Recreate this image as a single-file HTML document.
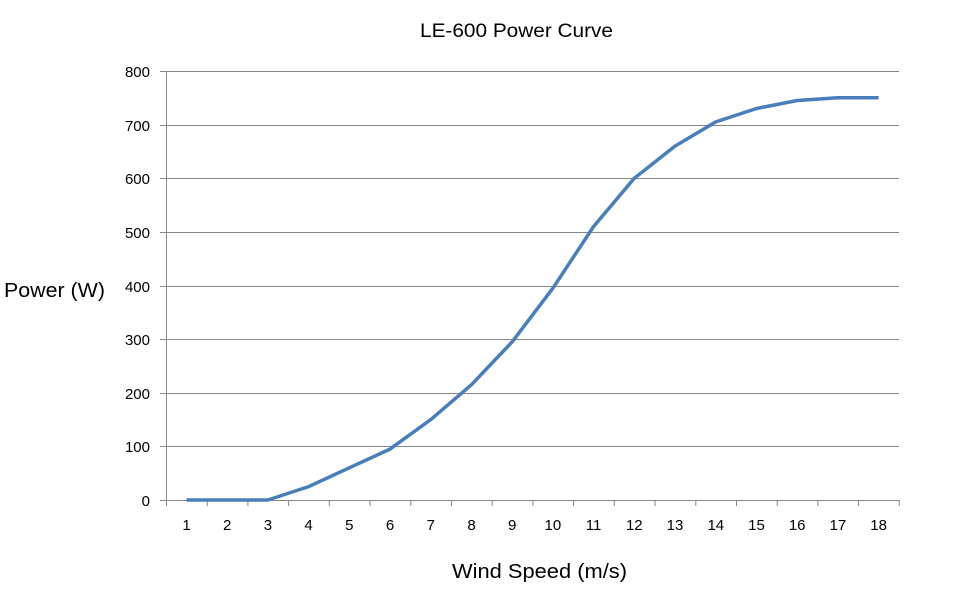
<!DOCTYPE html>
<html><head><style>body{margin:0;background:#fff}svg{display:block}text{font-family:"Liberation Sans",sans-serif;fill:#000}</style></head><body>
<svg width="967" height="599" xmlns="http://www.w3.org/2000/svg">
<text x="420" y="37" font-size="19" textLength="193" lengthAdjust="spacingAndGlyphs">LE-600 Power Curve</text>
<g stroke="#868686" stroke-width="1">
<line x1="166" x2="899" y1="71.5" y2="71.5"/><line x1="166" x2="899" y1="125.5" y2="125.5"/><line x1="166" x2="899" y1="178.5" y2="178.5"/><line x1="166" x2="899" y1="232.5" y2="232.5"/><line x1="166" x2="899" y1="286.5" y2="286.5"/><line x1="166" x2="899" y1="339.5" y2="339.5"/><line x1="166" x2="899" y1="393.5" y2="393.5"/><line x1="166" x2="899" y1="446.5" y2="446.5"/><line x1="160" x2="899" y1="500.5" y2="500.5"/>
<line x1="166.5" x2="166.5" y1="71" y2="506"/>
<line x1="160" x2="166" y1="71.5" y2="71.5"/><line x1="160" x2="166" y1="125.5" y2="125.5"/><line x1="160" x2="166" y1="178.5" y2="178.5"/><line x1="160" x2="166" y1="232.5" y2="232.5"/><line x1="160" x2="166" y1="286.5" y2="286.5"/><line x1="160" x2="166" y1="339.5" y2="339.5"/><line x1="160" x2="166" y1="393.5" y2="393.5"/><line x1="160" x2="166" y1="446.5" y2="446.5"/>
<path d="M207.2 500v6M247.9 500v6M288.6 500v6M329.3 500v6M370 500v6M410.8 500v6M451.5 500v6M492.2 500v6M532.9 500v6M573.6 500v6M614.3 500v6M655 500v6M695.8 500v6M736.5 500v6M777.2 500v6M817.9 500v6M858.6 500v6M899.3 500v6"/>
</g>
<g font-size="15" text-anchor="end">
<text x="150" y="77">800</text><text x="150" y="131">700</text><text x="150" y="184">600</text><text x="150" y="238">500</text><text x="150" y="292">400</text><text x="150" y="345">300</text><text x="150" y="399">200</text><text x="150" y="452">100</text><text x="150" y="506">0</text>
</g>
<g font-size="15" text-anchor="middle">
<text x="186.5" y="530">1</text><text x="227.2" y="530">2</text><text x="267.9" y="530">3</text><text x="308.6" y="530">4</text><text x="349.3" y="530">5</text><text x="390" y="530">6</text><text x="430.8" y="530">7</text><text x="471.5" y="530">8</text><text x="512.2" y="530">9</text><text x="552.9" y="530">10</text><text x="593.6" y="530">11</text><text x="634.3" y="530">12</text><text x="675" y="530">13</text><text x="715.8" y="530">14</text><text x="756.5" y="530">15</text><text x="797.2" y="530">16</text><text x="837.9" y="530">17</text><text x="878.6" y="530">18</text>
</g>
<text x="452" y="578" font-size="20" textLength="175" lengthAdjust="spacingAndGlyphs">Wind Speed (m/s)</text>
<text x="4" y="297" font-size="20" textLength="101" lengthAdjust="spacingAndGlyphs">Power (W)</text>
<polyline fill="none" stroke="#4a7ebb" stroke-width="3.5" stroke-linejoin="round" points="186.5,500 227.2,500 267.9,500 308.6,486.6 349.3,467.8 390,449.1 430.8,419.6 471.5,384.7 512.2,341.8 552.9,288.2 593.6,226.5 634.3,178.3 675,146.1 715.8,121.9 756.5,108.5 797.2,100.5 837.9,97.8 878.6,97.8"/>
</svg>
</body></html>
